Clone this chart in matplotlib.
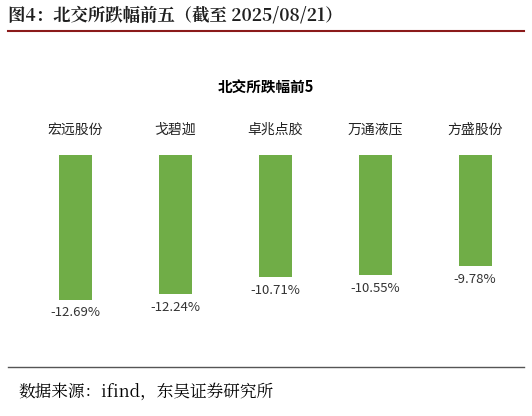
import matplotlib
matplotlib.use("Agg")
import matplotlib.pyplot as plt
from matplotlib.lines import Line2D

plt.rcParams['font.family'] = ['Noto Sans CJK SC', 'DejaVu Sans']

categories = ['宏远股份', '戈碧迦', '卓兆点胶', '万通液压', '方盛股份']
values = [-12.69, -12.24, -10.71, -10.55, -9.78]
labels = ['-12.69%', '-12.24%', '-10.71%', '-10.55%', '-9.78%']

W, H = 532, 416
fig = plt.figure(figsize=(W/100, H/100), dpi=100)

fig.text(8/W, 1-16/H, '图4：北交所跌幅前五（截至 2025/08/21）', fontsize=12.5,
         fontweight='bold', color='#1f1f1f', va='center', ha='left',
         family=['Noto Serif CJK SC', 'Noto Sans CJK SC', 'DejaVu Serif'])
fig.add_artist(Line2D([8/W, 524/W], [1-31/H, 1-31/H], color='#8B1A1A', lw=1.5))
fig.add_artist(Line2D([8/W, 524/W], [1-367/H, 1-367/H], color='#555555', lw=1))
fig.text(18/W, 1-392/H, '数据来源：ifind，东吴证券研究所', fontsize=12, va='center', ha='left',
         family=['Noto Serif CJK SC', 'Noto Sans CJK SC', 'DejaVu Serif'])
fig.text(266/W, 1-88/H, '北交所跌幅前5', fontsize=10.5, fontweight='bold', ha='center', va='center')

ax = fig.add_axes([25/W, 1-335/H, 500/W, (335-155)/H])
x = range(len(categories))
ax.bar(x, values, width=0.33, color='#70AD47')
for i, (v, l) in enumerate(zip(values, labels)):
    ax.text(i, v - 0.6, l, ha='center', va='top', fontsize=9.5, color='#333333', clip_on=False)
    ax.text(i, 2.2, categories[i], ha='center', va='center', fontsize=10, color='#222222', clip_on=False)
ax.set_ylim(-15.8, 0)
ax.set_xlim(-0.5, 4.5)
ax.axis('off')

fig.savefig('out.png', dpi=100)
